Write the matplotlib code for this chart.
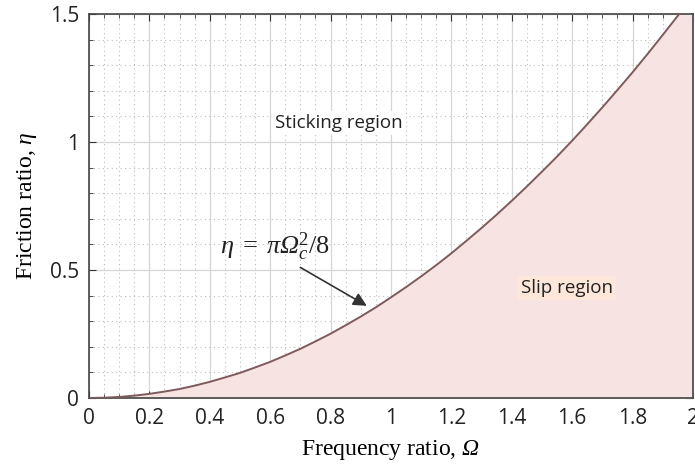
import matplotlib
matplotlib.use("Agg")
import matplotlib.pyplot as plt
from matplotlib.ticker import MultipleLocator

# boundary curve eta = pi * Omega^2 / 8
omega = [0.0, 0.05, 0.1, 0.15, 0.2, 0.25, 0.3, 0.35, 0.4, 0.45, 0.5,
         0.55, 0.6, 0.65, 0.7, 0.75, 0.8, 0.85, 0.9, 0.95, 1.0,
         1.05, 1.1, 1.15, 1.2, 1.25, 1.3, 1.35, 1.4, 1.45, 1.5,
         1.55, 1.6, 1.65, 1.7, 1.75, 1.8, 1.85, 1.9, 1.95, 2.0]
eta = [0.0, 0.001, 0.004, 0.009, 0.016, 0.025, 0.035, 0.048, 0.063, 0.080, 0.098,
       0.119, 0.141, 0.166, 0.192, 0.221, 0.251, 0.284, 0.318, 0.354, 0.393,
       0.433, 0.475, 0.519, 0.565, 0.614, 0.664, 0.716, 0.770, 0.826, 0.884,
       0.943, 1.005, 1.069, 1.135, 1.203, 1.272, 1.344, 1.418, 1.493, 1.571]

xticks = [0, 0.2, 0.4, 0.6, 0.8, 1, 1.2, 1.4, 1.6, 1.8, 2]
xticklabels = ["0", "0.2", "0.4", "0.6", "0.8", "1", "1.2", "1.4", "1.6", "1.8", "2"]
yticks = [0, 0.5, 1, 1.5]
yticklabels = ["0", "0.5", "1", "1.5"]

plt.rcParams["mathtext.fontset"] = "custom"
plt.rcParams["mathtext.rm"] = "Liberation Serif"
plt.rcParams["mathtext.it"] = "Liberation Serif:italic"
# mathtext keeps capital greek upright in \mathit, so borrow sf for an italic Omega
plt.rcParams["mathtext.sf"] = "Liberation Serif:italic"

fig = plt.figure(figsize=(6.95, 4.66), dpi=100)
ax = fig.add_axes([0.128, 0.146, 0.869, 0.824])

ax.fill_between(omega, eta, 0, color="#f6e3e2", zorder=1)
ax.plot(omega, eta, color="#7f5a5c", lw=1.4, zorder=3)

ax.set_xlim(0, 2)
ax.set_ylim(0, 1.5)
ax.set_xticks(xticks)
ax.set_xticklabels(xticklabels)
ax.set_yticks(yticks)
ax.set_yticklabels(yticklabels)
ax.xaxis.set_minor_locator(MultipleLocator(0.05))
ax.yaxis.set_minor_locator(MultipleLocator(0.1))

ax.grid(which="major", color="#d6d6d6", lw=0.9, ls="-", zorder=0)
ax.grid(which="minor", color="#bdbdbd", lw=0.8, ls=(0, (1, 3)), zorder=0)
ax.set_axisbelow(True)

ax.tick_params(which="both", direction="in", top=True, right=True, color="#333333")
ax.tick_params(which="major", length=5, labelsize=15, pad=7)
ax.tick_params(which="minor", length=3)
for lab in ax.get_xticklabels() + ax.get_yticklabels():
    lab.set_family("Open Sans")
    lab.set_color("#222222")
for sp in ax.spines.values():
    sp.set_color("#444444")
    sp.set_linewidth(1.2)

ax.set_xlabel(r"Frequency ratio, $\mathsf{\Omega}$", family="Liberation Serif",
              fontsize=17, labelpad=7)
ax.set_ylabel(r"Friction ratio, $\eta$", family="Liberation Serif",
              fontsize=17, labelpad=8)

ax.text(0.828, 1.074, "Sticking region", family="Open Sans", fontsize=13.5,
        ha="center", va="center", color="#222222",
        bbox=dict(facecolor="white", edgecolor="none", pad=2))
ax.text(1.583, 0.43, "Slip region", family="Open Sans", fontsize=13.5,
        ha="center", va="center", color="#222222",
        bbox=dict(facecolor="#fde6da", edgecolor="none", pad=2))

ax.text(0.616, 0.59, r"$\eta\;=\;\pi\mathsf{\Omega}_c^2/8$", fontsize=19,
        ha="center", va="center", color="#222222")
ax.annotate("", xy=(0.92, 0.36), xytext=(0.70, 0.51),
            arrowprops=dict(arrowstyle="-|>", color="#333333", lw=1.2,
                            mutation_scale=20, shrinkA=0, shrinkB=0))

fig.savefig("out.png", dpi=100)
